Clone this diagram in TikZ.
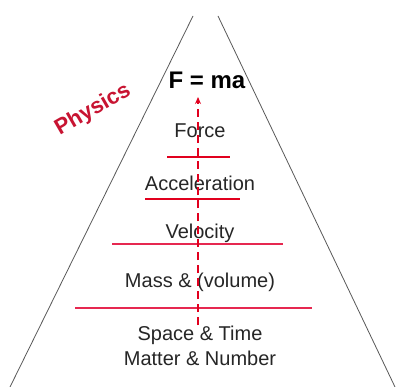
\documentclass[tikz,border=0pt]{standalone}
\usepackage{fontspec}
\setmainfont{Liberation Sans}
\usetikzlibrary{arrows.meta, positioning}
\definecolor{physred}{RGB}{200,20,50}
\definecolor{barred}{RGB}{225,0,30}
\definecolor{barpink}{RGB}{230,40,80}
\tikzset{
  pyrside/.style={draw=gray!70!black, line width=0.8pt},
  pyrlayer/.style={inner sep=0pt, align=center, font=\fontsize{20}{25}\selectfont, text=black!85},
  pyrtop/.style={inner sep=0pt, font=\fontsize{24}{28}\selectfont\bfseries},
  pyrbar/.style={draw=barred, line width=2pt},
  pyrbarthin/.style={draw=barpink, line width=1.2pt},
  pyrarrow/.style={-{Stealth[length=7pt,width=6pt]}, draw=barred, line width=1.6pt,
                   dash pattern=on 8pt off 5pt},
}

\begin{document}
\begin{tikzpicture}[x=1pt, y=-1pt]
  \useasboundingbox[fill=white] (0,0) rectangle (398,387);
  % sides of the pyramid
  \draw[pyrside] (193,16) -- (10,387);
  \draw[pyrside] (218,16) -- (395,387);
  % layers
  \node[pyrtop] (fma) at (207,80) {F = ma};
  \node[pyrlayer] (force) at (200,131) {Force};
  \node[pyrlayer] (accel) at (200,183) {Acceleration};
  \node[pyrlayer] (veloc) at (200,233) {Velocity};
  \node[pyrlayer] (mass) at (200,282) {Mass \& (volume)};
  \node[pyrlayer] (base) at (200,346) {Space \& Time\\Matter \& Number};
  \node[rotate=30, inner sep=0pt, text=physred, font=\fontsize{22}{26}\selectfont\bfseries]
    (physics) at (93,110) {Physics};
  % separators
  \draw[pyrbar] (167,157) -- (230,157);
  \draw[pyrbar] (145,199) -- (240,199);
  \draw[pyrbarthin] (112,244) -- (283,244);
  \draw[pyrbarthin] (75,308) -- (312,308);
  % upward arrow
  \coordinate (bottom) at (198,325);
  \coordinate (tip) at (198,97);
  \draw[pyrarrow] (bottom) -- (tip);
\end{tikzpicture}
\end{document}
